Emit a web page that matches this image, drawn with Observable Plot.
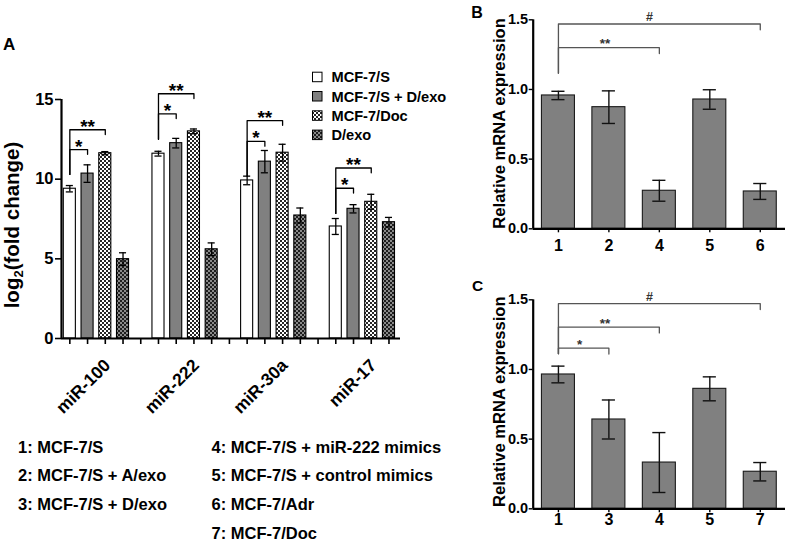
<!DOCTYPE html>
<html>
<head>
<meta charset="utf-8">
<script src="https://cdn.jsdelivr.net/npm/d3@7"></script>
<script src="https://cdn.jsdelivr.net/npm/@observablehq/plot@0.6"></script>
<style>
html,body{margin:0;padding:0;background:#fff;}
#wrap{position:relative;width:790px;height:543px;overflow:hidden;background:#fff;}
#wrap > svg{position:absolute;}
</style>
</head>
<body>
<svg width="0" height="0" style="position:absolute">
 <defs>
  <pattern id="patDoc" width="4" height="4" patternUnits="userSpaceOnUse">
   <rect width="4" height="4" fill="#ffffff"/>
   <rect x="0" y="0" width="2" height="2" fill="#262626"/>
   <rect x="2" y="2" width="2" height="2" fill="#262626"/>
  </pattern>
  <pattern id="patDexo" width="4" height="4" patternUnits="userSpaceOnUse">
   <rect width="4" height="4" fill="#8a8a8a"/>
   <rect x="0" y="0" width="2" height="2" fill="#1e1e1e"/>
   <rect x="2" y="2" width="2" height="2" fill="#1e1e1e"/>
  </pattern>
 </defs>
</svg>
<div id="wrap"></div>
<script>
const FONT = '"Liberation Sans", Arial, Helvetica, sans-serif';

// ---------- Panel A data ----------
const groups   = ["miR-100", "miR-222", "miR-30a", "miR-17"];
const seriesA  = ["MCF-7/S", "MCF-7/S + D/exo", "MCF-7/Doc", "D/exo"];
const meanS    = [9.40, 11.60,  9.92, 7.03];
const errS     = [0.20,  0.15,  0.27, 0.50];
const meanSD   = [10.35, 12.26, 11.10, 8.14];
const errSD    = [0.55,  0.30,  0.70, 0.26];
const meanDoc  = [11.63, 13.00, 11.66, 8.58];
const errDoc   = [0.10,  0.15,  0.53, 0.47];
const meanDexo = [4.98,  5.60,  7.72, 7.30];
const errDexo  = [0.40,  0.40,  0.47, 0.30];
const sigOneA  = [11.86, 14.10, 12.37, 9.43];   // "*" bracket level
const sigTwoA  = [13.10, 15.36, 13.68, 10.70];  // "**" bracket level
const sigBaseA = [10.30, 12.50, 10.20, 7.85];   // bracket stem bottom
const yTicksA  = [0, 5, 10, 15];

// ---------- Panel B data ----------
const catsB  = ["1", "2", "4", "5", "6"];
const meanB  = [0.957, 0.873, 0.273, 0.928, 0.268];
const errB   = [0.030, 0.117, 0.075, 0.070, 0.057];
const sigB   = [{from: "1", to: "4", y: 1.30, label: "**"}, {from: "1", to: "6", y: 1.47, label: "#"}];
const sigBaseB = 1.117;

// ---------- Panel C data ----------
const catsC  = ["1", "3", "4", "5", "7"];
const meanC  = [0.964, 0.641, 0.332, 0.861, 0.266];
const errC   = [0.060, 0.140, 0.215, 0.086, 0.066];
const sigC   = [{from: "1", to: "3", y: 1.153, label: "*"}, {from: "1", to: "4", y: 1.304, label: "**"}, {from: "1", to: "7", y: 1.472, label: "#"}];
const sigBaseC = 1.113;
const yTicksBC = [0, 0.5, 1.0, 1.5];

// ---------- Key text ----------
const keyLeft  = ["1: MCF-7/S", "2: MCF-7/S + A/exo", "3: MCF-7/S + D/exo"];
const keyRight = ["4: MCF-7/S + miR-222 mimics", "5: MCF-7/S + control mimics", "6: MCF-7/Adr", "7: MCF-7/Doc"];

const wrap = document.getElementById("wrap");
function place(svg, left, top) {
  svg.style.position = "absolute";
  svg.style.left = left + "px";
  svg.style.top = top + "px";
  svg.style.maxWidth = "none";
  wrap.appendChild(svg);
}

// ---------- Panel A ----------
const meansA = [meanS, meanSD, meanDoc, meanDexo];
const errsA  = [errS, errSD, errDoc, errDexo];
const fillsA = ["#ffffff", "#808080", "url(#patDoc)", "url(#patDexo)"];
const STEP = 5;
const rowsA = [];
groups.forEach((g, gi) => seriesA.forEach((s, si) => rowsA.push({
  group: g, series: s, si, slot: gi * STEP + si, mean: meansA[si][gi], err: errsA[si][gi]
})));
const halfA = 0.34, capA = 0.2;
const xDomA = [-0.47, 18.65];

const bracketPtsA = [], starA = [];
groups.forEach((g, gi) => {
  const s0 = gi * STEP;
  [[sigOneA[gi], 1, "*"], [sigTwoA[gi], 2, "**"]].forEach(([lvl, off, lab], k) => {
    const id = gi * 2 + k;
    bracketPtsA.push({id, x: s0, y: sigBaseA[gi]}, {id, x: s0, y: lvl}, {id, x: s0 + off, y: lvl}, {id, x: s0 + off, y: lvl - 0.3});
    starA.push({x: s0 + off / 2, y: lvl, label: lab});
  });
});
const groupLabels = groups.map((g, gi) => ({label: g, x: gi * STEP + 1.5, y: 0}));

const marksA = [];
seriesA.forEach((s, si) => {
  marksA.push(Plot.rectY(rowsA.filter(d => d.si === si), {
    x1: d => d.slot - halfA, x2: d => d.slot + halfA, y1: 0, y2: "mean",
    fill: fillsA[si], stroke: "#000", strokeWidth: 1.1
  }));
});
marksA.push(
  Plot.ruleX(rowsA, {x: "slot", y1: d => d.mean - d.err, y2: d => d.mean + d.err, stroke: "#000", strokeWidth: 1.3}),
  Plot.ruleY(rowsA, {x1: d => d.slot - capA, x2: d => d.slot + capA, y: d => d.mean + d.err, stroke: "#000", strokeWidth: 1.3}),
  Plot.ruleY(rowsA, {x1: d => d.slot - capA, x2: d => d.slot + capA, y: d => d.mean - d.err, stroke: "#000", strokeWidth: 1.3}),
  Plot.line(bracketPtsA, {x: "x", y: "y", z: "id", stroke: "#000", strokeWidth: 1.3}),
  Plot.text(starA, {x: "x", y: "y", text: "label", dy: -3, fontSize: 19, fontWeight: "bold", fill: "#000"}),
  Plot.axisY({ticks: yTicksA, tickSize: 6, tickPadding: 2, fontSize: 16.5, fontWeight: "bold", label: null, strokeWidth: 1.6}),
  Plot.axisX({ticks: d3.range(19), tickSize: 6, tickFormat: () => "", label: null, strokeWidth: 1.6}),
  Plot.ruleY([0], {stroke: "#000", strokeWidth: 2.2}),
  Plot.ruleX([xDomA[0]], {y1: yTicksA[0], y2: yTicksA[yTicksA.length - 1], stroke: "#000", strokeWidth: 2.2}),
  Plot.text(groupLabels, {x: "x", y: "y", text: "label", rotate: -45, textAnchor: "end", dx: 11, dy: 24, fontSize: 17.5, fontWeight: "bold", fill: "#000"})
);

const plotA = Plot.plot({
  width: 420, height: 420,
  marginLeft: 61, marginRight: 20, marginTop: 99, marginBottom: 82,
  x: {type: "linear", domain: xDomA},
  y: {domain: [0, 15]},
  style: {fontFamily: FONT, fontSize: "16px", fontWeight: "bold", color: "#000", background: "transparent", overflow: "visible"},
  marks: marksA
});
place(plotA, 0, 0);

// ---------- Panels B and C ----------
function makePanel(cats, means, errs, sigs, base, cfg) {
  const rows = cats.map((c, i) => ({cat: c, i, mean: means[i], err: errs[i]}));
  const half = 0.327, cap = 0.13;
  const pts = [], labs = [];
  sigs.forEach((b, k) => {
    const a = cats.indexOf(b.from), z = cats.indexOf(b.to);
    pts.push({k, x: a, y: base}, {k, x: a, y: b.y}, {k, x: z, y: b.y}, {k, x: z, y: b.y - 0.042});
    labs.push({x: (a + z) / 2, y: b.y, label: b.label});
  });
  const xDom = [-0.5, cats.length - 0.5];
  return Plot.plot({
    width: 330, height: cfg.height,
    marginLeft: 72.7, marginRight: 5, marginTop: cfg.marginTop, marginBottom: cfg.marginBottom,
    x: {type: "linear", domain: xDom},
    y: {domain: [0, 1.5]},
    style: {fontFamily: FONT, fontSize: "15px", fontWeight: "bold", color: "#000", background: "transparent", overflow: "visible"},
    marks: [
      Plot.rectY(rows, {x1: d => d.i - half, x2: d => d.i + half, y1: 0, y2: "mean", fill: "#808080", stroke: "#1a1a1a", strokeWidth: 1.1}),
      Plot.ruleX(rows, {x: "i", y1: d => d.mean - d.err, y2: d => d.mean + d.err, stroke: "#111", strokeWidth: 1.4}),
      Plot.ruleY(rows, {x1: d => d.i - cap, x2: d => d.i + cap, y: d => d.mean + d.err, stroke: "#111", strokeWidth: 1.4}),
      Plot.ruleY(rows, {x1: d => d.i - cap, x2: d => d.i + cap, y: d => d.mean - d.err, stroke: "#111", strokeWidth: 1.4}),
      Plot.line(pts, {x: "x", y: "y", z: "k", stroke: "#555", strokeWidth: 1.3}),
      Plot.text(labs.filter(d => d.label !== "#"), {x: "x", y: "y", text: "label", dx: -4, dy: -3.5, fontSize: 13.5, fontWeight: "bold", fill: "#333"}),
      Plot.text(labs.filter(d => d.label === "#"), {x: "x", y: "y", text: "label", dx: -10, dy: -6.5, fontSize: 12.5, fontWeight: "bold", fill: "#333"}),
      Plot.axisY({ticks: yTicksBC, tickFormat: d3.format(".1f"), tickSize: 4, tickPadding: 1, fontSize: 14.5, fontWeight: "bold", label: null, strokeWidth: 1.4}),
      Plot.axisX({ticks: d3.range(cats.length), tickFormat: i => cats[i], tickSize: 4, tickPadding: cfg.xPad, fontSize: 16, fontWeight: "bold", label: null, strokeWidth: 1.4}),
      Plot.ruleY([0], {stroke: "#000", strokeWidth: 2.2}),
      Plot.ruleX([xDom[0]], {y1: yTicksBC[0], y2: yTicksBC[yTicksBC.length - 1], stroke: "#000", strokeWidth: 2.2})
    ]
  });
}
const plotB = makePanel(catsB, meanB, errB, sigB, sigBaseB, {height: 270, marginTop: 19.3, marginBottom: 41.7, xPad: 7});
place(plotB, 460, 0);
const plotC = makePanel(catsC, meanC, errC, sigC, sigBaseC, {height: 273, marginTop: 29.3, marginBottom: 34.7, xPad: 1});
place(plotC, 460, 270);

// ---------- Overlay text: panel letters, axis titles, legends ----------
const ov = d3.select(wrap).append("svg")
  .attr("width", 790).attr("height", 543)
  .style("left", "0px").style("top", "0px").style("pointer-events", "none")
  .attr("font-family", FONT).attr("font-weight", "bold").attr("fill", "#000");

ov.append("text").attr("x", 3).attr("y", 50).attr("font-size", 17).text("A");
ov.append("text").attr("x", 477).attr("y", 18).attr("text-anchor", "middle").attr("font-size", 16).text("B");
ov.append("text").attr("x", 477.5).attr("y", 290.5).attr("text-anchor", "middle").attr("font-size", 15.5).text("C");

// A y-axis title with subscript
const ya = ov.append("text").attr("transform", "translate(19,225) rotate(-90)").attr("text-anchor", "middle").attr("font-size", 20.5);
ya.append("tspan").text("log");
ya.append("tspan").attr("font-size", 13).attr("dy", 4).text("2");
ya.append("tspan").attr("dy", -4).text("(fold change)");

// B, C y-axis titles
ov.append("text").attr("transform", "translate(504.5,123.4) rotate(-90)").attr("text-anchor", "middle").attr("font-size", 16.6).text("Relative mRNA expression");
ov.append("text").attr("transform", "translate(504.5,401.7) rotate(-90)").attr("text-anchor", "middle").attr("font-size", 16.6).text("Relative mRNA expression");

// Panel A legend
const legBase = [82.2, 101.5, 120.8, 140.1];
seriesA.forEach((s, i) => {
  ov.append("rect").attr("x", 312.5).attr("y", legBase[i] - 10).attr("width", 9.5).attr("height", 9.5)
    .attr("fill", fillsA[i]).attr("stroke", "#000").attr("stroke-width", 1);
  ov.append("text").attr("x", 331.5).attr("y", legBase[i]).attr("font-size", 14.6).text(s);
});

// Bottom key
const keyBase = [452.6, 481.3, 510.3, 539.2];
keyLeft.forEach((t, i) => ov.append("text").attr("x", 18).attr("y", keyBase[i]).attr("font-size", 16.5).text(t));
keyRight.forEach((t, i) => ov.append("text").attr("x", 211.5).attr("y", keyBase[i]).attr("font-size", 16.5).text(t));
</script>
</body>
</html>
